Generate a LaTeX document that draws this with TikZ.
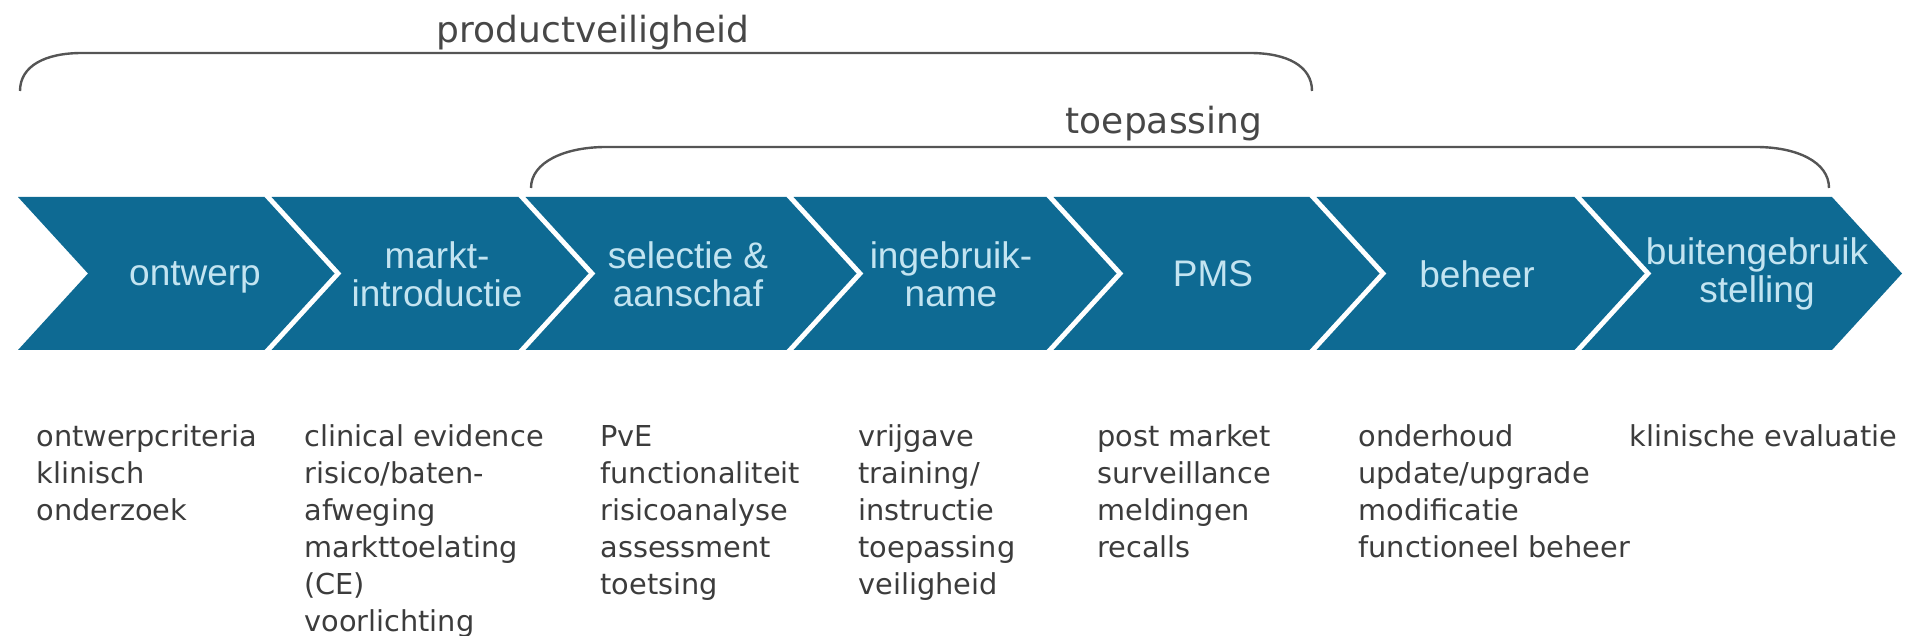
\documentclass[tikz,border=0pt]{standalone}
\usepackage{fontspec}
\setmainfont{DejaVu Sans}
\newfontfamily\chevfont{Liberation Sans}
\definecolor{chevblue}{HTML}{0E6A93}
\definecolor{chevtext}{HTML}{C3E4F1}
\definecolor{bracegray}{HTML}{555555}
\definecolor{labelgray}{HTML}{474747}
\definecolor{listgray}{HTML}{3C3C3C}

\begin{document}
\begin{tikzpicture}[x=0.5pt,y=-0.5pt,
  chev/.style={fill=chevblue},
  chevlabel/.style={text=chevtext, font={\chevfont\fontsize{18.5}{19}\selectfont}, align=center, inner sep=0pt},
  spanlabel/.style={text=labelgray, font={\fontsize{18}{21}\selectfont}, anchor=base, inner sep=0pt},
  spanline/.style={draw=bracegray, line width=1.2pt},
  listtext/.style={text=listgray, font={\fontsize{14.4}{18.5}\selectfont}, align=left, anchor=base west, inner sep=0pt}
]
\useasboundingbox (0,0) rectangle (1907,636);

% process chevrons (left edge / right edge of the straight top)
\foreach \L/\R in {18/264.5, 271.5/518.5, 525.5/786.5, 793.5/1046.5, 1053.5/1309.5, 1316.5/1574.5, 1581.5/1832}
  \fill[chev] (\L,197) -- (\R,197) -- ({\R+70},273.5) -- (\R,350) -- (\L,350) -- ({\L+70},273.5) -- cycle;

% phase names
\node[chevlabel] (l-ontwerp)   at (195,277)  {ontwerp};
\node[chevlabel] (l-markt)     at (437,274)  {markt-\\introductie};
\node[chevlabel] (l-selectie)  at (688,274)  {selectie \&\\aanschaf};
\node[chevlabel] (l-ingebruik) at (951,274)  {ingebruik-\\name};
\node[chevlabel] (l-pms)       at (1213,274) {PMS};
\node[chevlabel] (l-beheer)    at (1477,274) {beheer};
\node[chevlabel] (l-buiten)    at (1757,274) {buitengebruik\\stelling};

% spanning brackets
\draw[spanline] (20,91) .. controls (20,66) and (45,53) .. (82,53) -- (1250,53)
  .. controls (1287,53) and (1312,66) .. (1312,91);
\draw[spanline] (531,188) .. controls (531,162) and (565,147) .. (606,147) -- (1756,147)
  .. controls (1797,147) and (1829,162) .. (1829,188);

\node[spanlabel] (t-product)    at (593,43)  {productveiligheid};
\node[spanlabel] (t-toepassing) at (1164,134) {toepassing};

% activities per phase (anchored at the baseline of the last line; rows 37 apart, first at 446)
\node[listtext] (c-ontwerp)   at (36,520)   {ontwerpcriteria\\klinisch\\onderzoek};
\node[listtext] (c-markt)     at (304,631)  {clinical evidence\\risico/baten-\\afweging\\markttoelating\\(CE)\\voorlichting};
\node[listtext] (c-selectie)  at (600,594)  {PvE\\functionaliteit\\risicoanalyse\\assessment\\toetsing};
\node[listtext] (c-ingebruik) at (858,594)  {vrijgave\\training/\\instructie\\toepassing\\veiligheid};
\node[listtext] (c-pms)       at (1097,557) {post market\\surveillance\\meldingen\\recalls};
\node[listtext] (c-beheer)    at (1358,557) {onderhoud\\update/upgrade\\modificatie\\functioneel beheer};
\node[listtext] (c-buiten)    at (1629,446) {klinische evaluatie};
\end{tikzpicture}
\end{document}
